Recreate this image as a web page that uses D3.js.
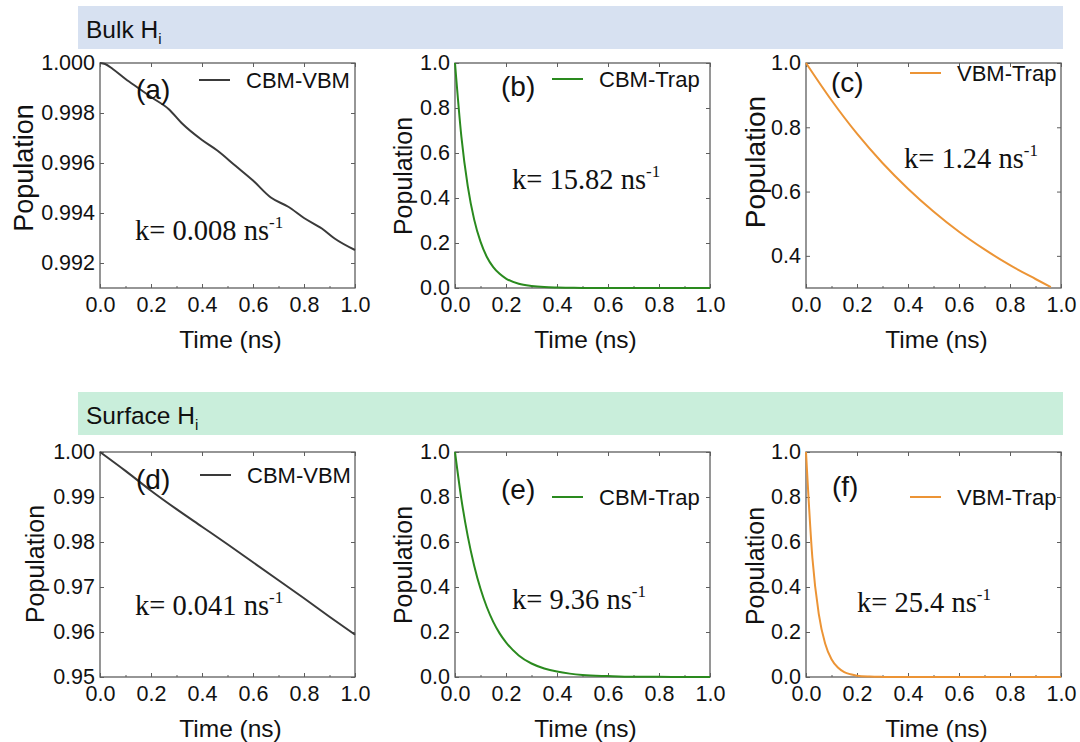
<!DOCTYPE html>
<html>
<head>
<meta charset="utf-8">
<script src="https://cdn.jsdelivr.net/npm/d3@7"></script>
<style>
  body { margin: 0; background: #fff; }
  svg { display: block; }
  text { font-family: "Liberation Sans", Arial, sans-serif; fill: #111; }
  .serif { font-family: "Liberation Serif", "Times New Roman", serif; }
</style>
</head>
<body>
<div id="chart"></div>
<script>
// values
const timeA = [0, 0.02, 0.05, 0.1, 0.15, 0.2, 0.27, 0.32, 0.4, 0.46, 0.53, 0.6, 0.67, 0.74, 0.8, 0.87, 0.92, 1.0];
const popA  = [1.0000, 0.99996, 0.99976, 0.99936, 0.99900, 0.99864, 0.99815, 0.99760, 0.99692,
               0.99650, 0.99590, 0.99530, 0.99462, 0.99424, 0.99380, 0.99338, 0.99298, 0.99252];

const timeFine = [0, 0.025, 0.05, 0.075, 0.1, 0.125, 0.15, 0.175, 0.2, 0.25, 0.3, 0.35, 0.4, 0.45, 0.5, 0.6, 0.7, 0.8, 0.9, 1.0];
const popB = [1, 0.673, 0.453, 0.305, 0.206, 0.138, 0.093, 0.063, 0.042, 0.019, 0.009, 0.004, 0.002, 0.001, 0, 0, 0, 0, 0, 0];
const popE = [1, 0.791, 0.626, 0.496, 0.392, 0.310, 0.245, 0.194, 0.154, 0.096, 0.060, 0.038, 0.024, 0.015, 0.009, 0.004, 0.001, 0.001, 0, 0];
const popF = [1, 0.530, 0.281, 0.149, 0.079, 0.042, 0.022, 0.012, 0.006, 0.002, 0.0005, 0, 0, 0, 0, 0, 0, 0, 0, 0];

const timeC = [0, 0.1, 0.2, 0.3, 0.4, 0.5, 0.6, 0.7, 0.8, 0.9, 0.96];
const popC  = [1, 0.884, 0.780, 0.689, 0.609, 0.538, 0.475, 0.420, 0.371, 0.328, 0.303];

const timeD = [0, 0.1, 0.2, 0.3, 0.4, 0.5, 0.6, 0.7, 0.8, 0.9, 1.0];
const popD  = [1.000, 0.9958, 0.9914, 0.9873, 0.9834, 0.9795, 0.9755, 0.9715, 0.9675, 0.9634, 0.9594];

const xTicks = [0, 0.2, 0.4, 0.6, 0.8, 1.0];
const xMinor = [0.1, 0.3, 0.5, 0.7, 0.9];
const yTicksA = [0.992, 0.994, 0.996, 0.998, 1.000];
const yTicksC = [0.4, 0.6, 0.8, 1.0];
const yTicksD = [0.95, 0.96, 0.97, 0.98, 0.99, 1.00];
const yTicksUnit = [0, 0.2, 0.4, 0.6, 0.8, 1.0];

const groupTitles = ["Bulk H", "Surface H"];
const groupColors = ["#d7e1f1", "#c9eedb"];

const COLORS = { vbm: "#3a3a3a", cbmTrap: "#2a8a1e", vbmTrap: "#ec9435" };

const W = 1080, H = 742;
const colX = [100, 455, 806], rowY = [63, 452];
const PW = 255, PH = 225;

const panels = [
  { tag: "(a)", row: 0, col: 0, t: timeA, y: popA, dom: [0.991, 1.0], ticks: yTicksA, fmt: ".3f",
    name: "CBM-VBM", color: COLORS.vbm, k: "0.008",
    tagPos: [136, 99], legY: 80, legX: 199, kPos: [135, 240], lab: [23, 168, 27] },
  { tag: "(b)", row: 0, col: 1, t: timeFine, y: popB, dom: [0, 1], ticks: yTicksUnit, fmt: ".1f",
    name: "CBM-Trap", color: COLORS.cbmTrap, k: "15.82",
    tagPos: [501, 96], legY: 79, legX: 552, kPos: [512, 189], lab: [403, 176, 25] },
  { tag: "(c)", row: 0, col: 2, t: timeC, y: popC, dom: [0.3, 1.0], ticks: yTicksC, fmt: ".1f",
    name: "VBM-Trap", color: COLORS.vbmTrap, k: "1.24",
    tagPos: [831, 92], legY: 73, legX: 910, kPos: [904, 168], lab: [755, 162, 28] },
  { tag: "(d)", row: 1, col: 0, t: timeD, y: popD, dom: [0.95, 1.0], ticks: yTicksD, fmt: ".2f",
    name: "CBM-VBM", color: COLORS.vbm, k: "0.041",
    tagPos: [136, 489], legY: 475, legX: 200, kPos: [135, 615], lab: [35, 564, 25] },
  { tag: "(e)", row: 1, col: 1, t: timeFine, y: popE, dom: [0, 1], ticks: yTicksUnit, fmt: ".1f",
    name: "CBM-Trap", color: COLORS.cbmTrap, k: "9.36",
    tagPos: [501, 499], legY: 497, legX: 552, kPos: [512, 609], lab: [403, 565, 25] },
  { tag: "(f)", row: 1, col: 2, t: timeFine, y: popF, dom: [0, 1], ticks: yTicksUnit, fmt: ".1f",
    name: "VBM-Trap", color: COLORS.vbmTrap, k: "25.4",
    tagPos: [832, 496], legY: 497, legX: 910, kPos: [857, 612], lab: [755, 566, 25] }
];

const svg = d3.select("#chart").append("svg")
    .attr("width", W).attr("height", H)
    .attr("viewBox", `0 0 ${W} ${H}`);

// group header bars
[6, 392].forEach((y0, i) => {
  svg.append("rect")
      .attr("x", 78).attr("y", y0).attr("width", 985).attr("height", 43)
      .attr("fill", groupColors[i]);
  const t = svg.append("text")
      .attr("x", 86).attr("y", y0 + 32)
      .style("font-size", "24.5px");
  t.append("tspan").text(groupTitles[i]);
  t.append("tspan").attr("dy", 6).style("font-size", "15px").text("i");
});

const frameColor = "#5e5e5e";
const tickFont = "21.5px";

panels.forEach(p => {
  const x0 = colX[p.col], y0 = rowY[p.row];
  const x = d3.scaleLinear().domain([0, 1]).range([x0, x0 + PW]);
  const y = d3.scaleLinear().domain(p.dom).range([y0 + PH, y0]);
  const g = svg.append("g");

  // inward ticks on all four sides
  const tk = 4;
  const styleTicks = a => {
    a.select(".domain").remove();
    a.selectAll("line").attr("stroke", frameColor);
    a.selectAll("text").style("font-size", tickFont).style("font-family", "Liberation Sans").attr("fill", "#111");
  };
  g.append("g").attr("transform", `translate(0,${y0 + PH})`)
      .call(d3.axisBottom(x).tickValues(xTicks).tickSize(-tk).tickFormat(d3.format(".1f")).tickPadding(9))
      .call(styleTicks);
  g.append("g").attr("transform", `translate(0,${y0 + PH})`)
      .call(d3.axisBottom(x).tickValues(xMinor).tickSize(-2).tickFormat(""))
      .call(styleTicks);
  g.append("g").attr("transform", `translate(0,${y0})`)
      .call(d3.axisTop(x).tickValues(xTicks).tickSize(-tk).tickFormat(""))
      .call(styleTicks);
  g.append("g").attr("transform", `translate(${x0},0)`)
      .call(d3.axisLeft(y).tickValues(p.ticks).tickSize(-tk).tickFormat(d3.format(p.fmt)).tickPadding(5))
      .call(styleTicks);
  g.append("g").attr("transform", `translate(${x0 + PW},0)`)
      .call(d3.axisRight(y).tickValues(p.ticks).tickSize(-tk).tickFormat(""))
      .call(styleTicks);

  g.append("rect")
      .attr("x", x0).attr("y", y0).attr("width", PW).attr("height", PH)
      .attr("fill", "none").attr("stroke", frameColor).attr("stroke-width", 1.3);

  const pts = p.t.map((t, i) => [t, p.y[i]]);
  g.append("path")
      .datum(pts)
      .attr("fill", "none")
      .attr("stroke", p.color)
      .attr("stroke-width", 2)
      .attr("d", d3.line().x(d => x(d[0])).y(d => y(d[1])).curve(d3.curveMonotoneX));

  // axis titles
  g.append("text")
      .attr("x", x0 + PW / 2 + 3).attr("y", y0 + PH + 60)
      .attr("text-anchor", "middle")
      .style("font-size", "24.5px")
      .text("Time (ns)");
  g.append("text")
      .attr("transform", `translate(${p.lab[0] + p.lab[2] * 0.36},${p.lab[1]}) rotate(-90)`)
      .attr("text-anchor", "middle")
      .style("font-size", p.lab[2] + "px")
      .text("Population");

  // panel tag
  g.append("text")
      .attr("x", p.tagPos[0]).attr("y", p.tagPos[1])
      .style("font-size", "28px")
      .text(p.tag);

  // legend
  g.append("line")
      .attr("x1", p.legX).attr("x2", p.legX + 31)
      .attr("y1", p.legY).attr("y2", p.legY)
      .attr("stroke", p.color).attr("stroke-width", 2);
  g.append("text")
      .attr("x", p.legX + 47).attr("y", p.legY + 8)
      .style("font-size", "22px")
      .text(p.name);

  // rate annotation
  const kt = g.append("text")
      .attr("class", "serif")
      .attr("x", p.kPos[0]).attr("y", p.kPos[1])
      .style("font-size", "28.5px");
  kt.append("tspan").text(`k= ${p.k} ns`);
  kt.append("tspan").attr("dy", -12).style("font-size", "17px").text("-1");
});
</script>
</body>
</html>
